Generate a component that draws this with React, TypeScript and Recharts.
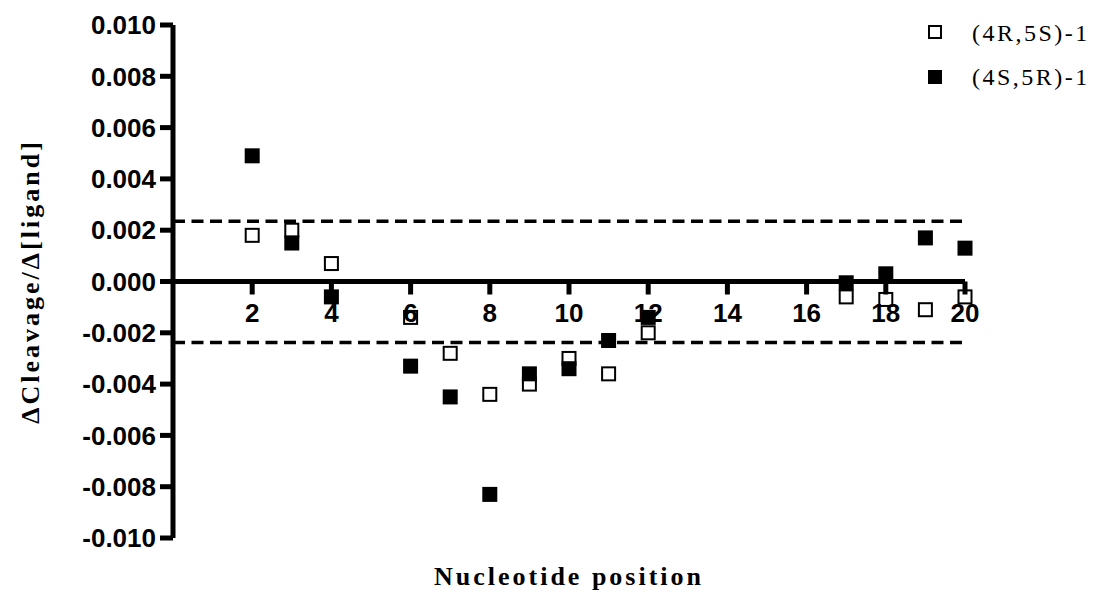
import React from "react";
import {
  ScatterChart,
  Scatter,
  XAxis,
  YAxis,
  ReferenceLine,
  ReferenceDot,
  Legend,
} from "recharts";

const positions = [2, 3, 4, 6, 7, 8, 9, 10, 11, 12, 17, 18, 19, 20];
const openValues = [0.0018, 0.002, 0.0007, -0.0014, -0.0028, -0.0044, -0.004, -0.003, -0.0036, -0.002, -0.0006, -0.0007, -0.0011, -0.0006];
const filledValues = [0.0049, 0.0015, -0.0006, -0.0033, -0.0045, -0.0083, -0.0036, -0.0034, -0.0023, -0.0014, -0.00005, 0.0003, 0.0017, 0.0013];
const yTicks = [-0.01, -0.008, -0.006, -0.004, -0.002, 0, 0.002, 0.004, 0.006, 0.008, 0.01];
const xTicks = [2, 4, 6, 8, 10, 12, 14, 16, 18, 20];
const thresholds = [0.00235, -0.00238];
const seriesNames = ["(4R,5S)-1", "(4S,5R)-1"];

const openData = positions.map((x, i) => ({ x, y: openValues[i] }));
const filledData = positions.map((x, i) => ({ x, y: filledValues[i] }));

const SANS = "'Liberation Sans', Arial, sans-serif";
const SERIF = "'Liberation Serif', 'Times New Roman', serif";

const OpenSquare = (p: any) => (
  <rect x={p.cx - 6.5} y={p.cy - 6.5} width={13} height={13} fill="#fff" stroke="#000" strokeWidth={2} />
);
const FilledSquare = (p: any) => (
  <rect x={p.cx - 7.5} y={p.cy - 7.5} width={15} height={15} fill="#000" />
);

const XTick = (label: number) => (p: any) => (
  <g>
    <line x1={p.cx} y1={p.cy} x2={p.cx} y2={p.cy + 13} stroke="#000" strokeWidth={5} />
    <text
      x={p.cx}
      y={p.cy + 40}
      textAnchor="middle"
      fontFamily={SANS}
      fontWeight="bold"
      fontSize={26}
      fill="#000"
    >
      {label}
    </text>
  </g>
);

const LegendContent = () => (
  <div style={{ fontFamily: SERIF, fontSize: 24, letterSpacing: 2.5, color: "#000" }}>
    {seriesNames.map((name, i) => (
      <div key={name} style={{ display: "flex", alignItems: "center", height: 44 }}>
        <svg width={44} height={16} style={{ flex: "none" }}>
          {i === 0 ? (
            <rect x={1} y={1} width={12} height={12} fill="#fff" stroke="#000" strokeWidth={2} />
          ) : (
            <rect x={0} y={1} width={14} height={14} fill="#000" />
          )}
        </svg>
        <span style={{ whiteSpace: "nowrap" }}>{name}</span>
      </div>
    ))}
  </div>
);

export default function App() {
  return (
    <div style={{ position: "absolute", left: 0, top: 0, width: 1102, height: 599, background: "#fff" }}>
      <ScatterChart width={1102} height={599} margin={{ top: 25, right: 137, bottom: 0, left: 0 }}>
        <XAxis
          type="number"
          dataKey="x"
          domain={[0, 20]}
          ticks={xTicks}
          tick={false}
          axisLine={false}
          tickLine={false}
          height={61}
          label={{
            content: (props: any) => {
              const vb = props.viewBox;
              return (
                <text
                  x={vb.x + vb.width / 2}
                  y={vb.y + 47}
                  textAnchor="middle"
                  fontFamily={SERIF}
                  fontWeight="bold"
                  fontSize={26}
                  letterSpacing={3}
                  fill="#000"
                >
                  Nucleotide position
                </text>
              );
            },
          }}
        />
        <YAxis
          type="number"
          dataKey="y"
          domain={[-0.01, 0.01]}
          ticks={yTicks}
          interval={0}
          width={173}
          tickFormatter={(v: number) => v.toFixed(3)}
          axisLine={{ stroke: "#000", strokeWidth: 5 }}
          tickLine={{ stroke: "#000", strokeWidth: 5 }}
          tickSize={13}
          tickMargin={4}
          tick={{ fill: "#000", fontFamily: SANS, fontWeight: "bold", fontSize: 26 }}
          label={{
            content: (props: any) => {
              const vb = props.viewBox;
              const cx = 30;
              const cy = vb.y + vb.height / 2;
              return (
                <text
                  x={cx}
                  y={cy}
                  transform={`rotate(-90, ${cx}, ${cy})`}
                  textAnchor="middle"
                  dominantBaseline="central"
                  fontFamily={SERIF}
                  fontWeight="bold"
                  fontSize={26}
                  letterSpacing={3}
                  fill="#000"
                >
                  ΔCleavage/Δ[ligand]
                </text>
              );
            },
          }}
        />
        <Legend
          layout="horizontal"
          verticalAlign="middle"
          align="center"
          content={<LegendContent />}
          wrapperStyle={{ position: "absolute", left: 928, top: 11, width: 174 }}
        />
        {thresholds.map((t) => (
          <ReferenceLine key={t} y={t} stroke="#000" strokeWidth={3.5} strokeDasharray="12 6.5" />
        ))}
        <Scatter name={seriesNames[0]} data={openData} shape={OpenSquare} isAnimationActive={false} />
        <ReferenceLine y={0} stroke="#000" strokeWidth={5} />
        {xTicks.map((t) => (
          <ReferenceDot key={t} x={t} y={0} r={0} shape={XTick(t)} ifOverflow="visible" />
        ))}
        <Scatter name={seriesNames[1]} data={filledData} shape={FilledSquare} isAnimationActive={false} />
      </ScatterChart>
    </div>
  );
}
